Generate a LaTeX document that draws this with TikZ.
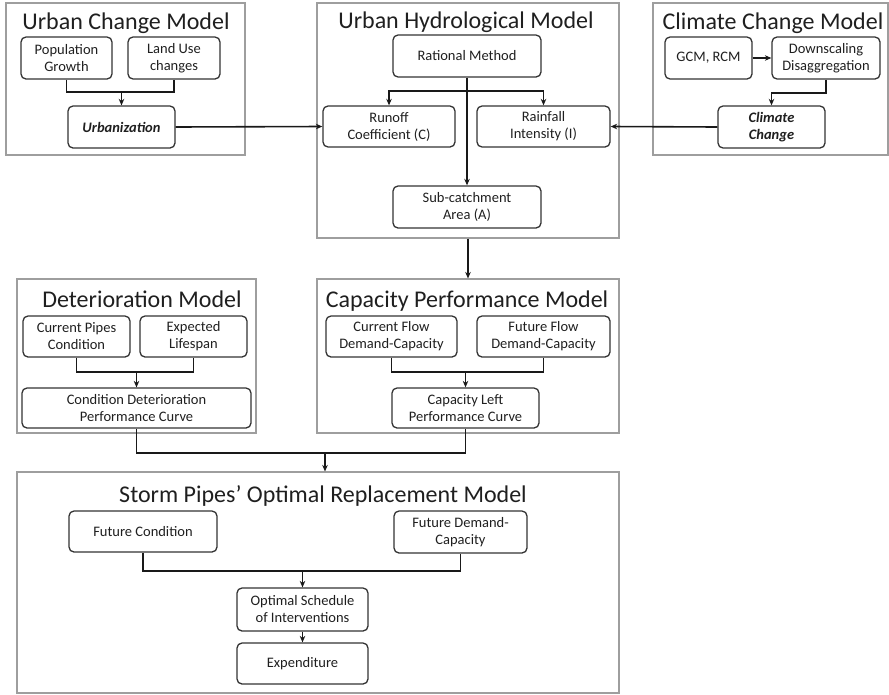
\documentclass[tikz,border=0pt]{standalone}
\usepackage{fontspec}
\setmainfont{Carlito}
\usetikzlibrary{calc}
\usetikzlibrary{positioning}
\usetikzlibrary{arrows.meta}
\definecolor{panelgray}{gray}{0.62}
\definecolor{textgray}{gray}{0.12}
\tikzset{x=1pt, y=-1pt, % one unit per pixel, y grows downwards
  every node/.style={align=center, text=textgray},
  panel/.style={ % outer frame of each model
    draw=panelgray, line width=1.1pt, inner sep=0pt},
  block/.style={ % rounded box inside a model
    draw=black!80, line width=1.3pt, rounded corners=5pt, inner sep=2pt,
    font=\fontsize{14.5}{17}\selectfont},
  keybox/.style={block, font=\fontsize{14.5}{17}\selectfont\bfseries\itshape},
  ptitle/.style={anchor=base, font=\fontsize{24}{28}\selectfont},
  flow/.style={draw=black!90, line width=1.6pt}}

\begin{document}
\begin{tikzpicture}[>={Stealth[length=6.5pt,width=5.5pt]}]
  \useasboundingbox (0,0) rectangle (889,694);

  % model frames
  \node[panel, minimum width=239, minimum height=152] (ucM) at (125.5,79) {};
  \node[panel, minimum width=302, minimum height=235] (hyM) at (468,120.5) {};
  \node[panel, minimum width=235, minimum height=152] (ccM) at (770.5,79) {};
  \node[panel, minimum width=239, minimum height=154] (dtM) at (136.5,356) {};
  \node[panel, minimum width=302, minimum height=154] (cpM) at (468,356) {};
  \node[panel, minimum width=602, minimum height=221] (spM) at (318,582.5) {};

  \node[ptitle] (ucT) at (126,29) {Urban Change Model};
  \node[ptitle] (hyT) at (466,28) {Urban Hydrological Model};
  \node[ptitle] (ccT) at (773,29) {Climate Change Model};
  \node[ptitle] (dtT) at (142,307) {Deterioration Model};
  \node[ptitle] (cpT) at (467,307) {Capacity Performance Model};
  \node[ptitle] (spT) at (323,502) {Storm Pipes’ Optimal Replacement Model};

  % urban change
  \node[block, minimum width=91, minimum height=42] (pop) at (66.5,58) {Population\\Growth};
  \node[block, minimum width=92, minimum height=42] (land) at (174,58) {Land Use\\changes};
  \node[keybox, minimum width=107, minimum height=42] (urb) at (121.5,127) {Urbanization};
  \coordinate (jUC) at (121.5,92);
  \draw[flow] (pop.south) |- (jUC) -| (land.south);
  \draw[flow,->] (jUC) -- (urb.north);

  % urban hydrology
  \node[block, minimum width=148, minimum height=42] (rat) at (467,56) {Rational Method};
  \node[block, minimum width=132, minimum height=41] (runoff) at (389,126.5) {Runoff\\Coefficient (C)};
  \node[block, minimum width=133, minimum height=41] (rain) at (543.5,126.5) {Rainfall\\Intensity (I)};
  \node[block, minimum width=148, minimum height=42] (sub) at (467,207) {Sub-catchment\\Area (A)};
  \coordinate (jHY) at (467,91);
  \draw[flow,->] (rat.south) -- (sub.north);
  \draw[flow,<->] (runoff.north) |- (jHY) -| (rain.north);
  \draw[flow,->] (urb.east) -- (runoff.west);

  % climate change
  \node[block, minimum width=87, minimum height=42] (gcm) at (708.5,58) {GCM, RCM};
  \node[block, minimum width=108, minimum height=42] (down) at (826,58) {Downscaling\\Disaggregation};
  \node[keybox, minimum width=107, minimum height=42] (clim) at (771.5,127) {Climate\\Change};
  \coordinate (jCC) at (771.5,93);
  \draw[flow,->] (gcm.east) -- (down.west);
  \draw[flow,->] (down.south) |- (jCC) -- (clim.north);
  \draw[flow,->] (clim.west) -- (rain.east);

  % deterioration
  \node[block, minimum width=107, minimum height=41] (curP) at (76.5,336.5) {Current Pipes\\Condition};
  \node[block, minimum width=107, minimum height=41] (life) at (193.5,336.5) {Expected\\Lifespan};
  \node[block, minimum width=229, minimum height=40] (cond) at (136.5,408) {Condition Deterioration\\Performance Curve};
  \coordinate (jDT) at (136.5,372);
  \draw[flow] (curP.south) |- (jDT) -| (life.south);
  \draw[flow,->] (jDT) -- (cond.north);

  % capacity performance
  \node[block, minimum width=131, minimum height=41] (curF) at (391.5,336.5) {Current Flow\\Demand-Capacity};
  \node[block, minimum width=133, minimum height=41] (futF) at (543.5,336.5) {Future Flow\\Demand-Capacity};
  \node[block, minimum width=147, minimum height=40] (capL) at (465.5,408) {Capacity Left\\Performance Curve};
  \coordinate (jCP) at (465.5,372);
  \draw[flow] (curF.south) |- (jCP) -| (futF.south);
  \draw[flow,->] (jCP) -- (capL.north);
  \draw[flow,->] (hyM.south) -- (cpM.north);

  % both curves feed the replacement model
  \coordinate (jSP) at (325,453);
  \draw[flow] (cond.south) |- (jSP) -| (capL.south);
  \draw[flow,->] (jSP) -- (jSP |- spM.north);

  % optimal replacement
  \node[block, minimum width=148, minimum height=41] (futC) at (143,531.5) {Future Condition};
  \node[block, minimum width=133, minimum height=42] (futD) at (460.5,532) {Future Demand-\\Capacity};
  \node[block, minimum width=131, minimum height=43] (opt) at (302.5,609.5) {Optimal Schedule\\of Interventions};
  \node[block, minimum width=131, minimum height=41] (expd) at (302.5,663.5) {Expenditure};
  \coordinate (jOP) at (302.5,571);
  \draw[flow] (futC.south) |- (jOP) -| (futD.south);
  \draw[flow,->] (jOP) -- (opt.north);
  \draw[flow,->] (opt.south) -- (expd.north);
\end{tikzpicture}
\end{document}
